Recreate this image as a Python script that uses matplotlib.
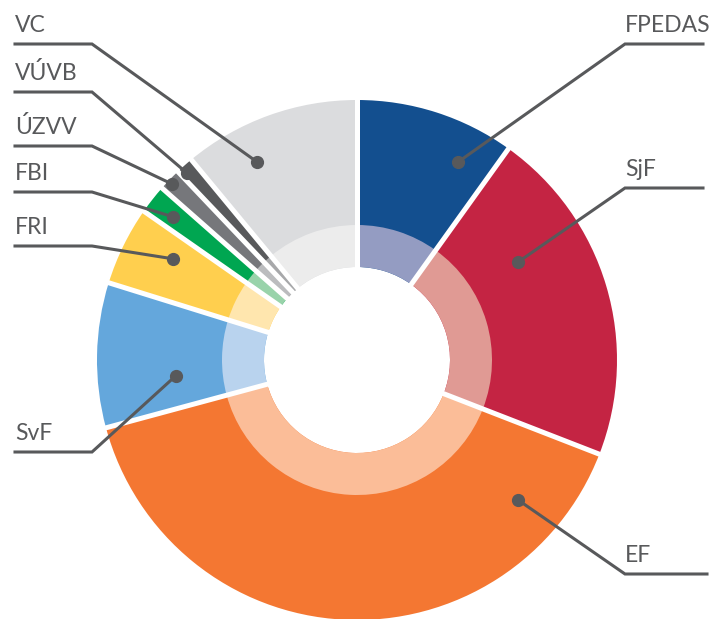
import numpy as np
import matplotlib
matplotlib.use("Agg")
import matplotlib.pyplot as plt

# Shares of each unit, clockwise from 12 o'clock (percent)
labels = ["FPEDAS", "SjF", "EF", "SvF", "FRI", "FBI", "ÚZVV", "VÚVB", "VC"]
shares = [9.9, 21.0, 39.9, 9.0, 4.9, 1.8, 1.4, 1.1, 11.0]

outer_colors = ["#134f8f", "#c42443", "#f47732", "#64a7dc", "#ffcf4e",
                "#00a651", "#76777b", "#58595b", "#dbdcde"]
inner_colors = ["#949cc2", "#e09a94", "#fbbd98", "#b9d3ee", "#ffe6ae",
                "#99d3aa", "#bbbcbe", "#a7a8aa", "#ececec"]

# Leader layout: marker angle (deg clockwise from top), marker radius,
# label line height (px from top), which side
marker_angle = [27, 58.7, 131, 265, 298.8, 307.9, 313.6, 317.7, 333.2]
marker_r = [222, 188, 213, 182, 210, 233, 255, 253, 222]
label_y = [44, 188, 574, 452, 246, 192, 146, 92, 44]
side = ["R", "R", "R", "L", "L", "L", "L", "L", "L"]
line_end = [703, 703, 707, 15, 15, 15, 15, 15, 15]

W, H = 712, 619
cx, cy = 357, H - 360
R_OUT, R_MID, R_IN = 260, 135, 93
GREY = "#58595b"

plt.rcParams["font.family"] = ["Lato", "DejaVu Sans"]

fig = plt.figure(figsize=(W / 100, H / 100), dpi=100)
ax = fig.add_axes([0, 0, 1, 1])

ax.pie(shares, colors=outer_colors, startangle=90, counterclock=False,
       center=(cx, cy), radius=R_OUT, frame=True,
       wedgeprops=dict(width=R_OUT - R_IN, linewidth=0))
ax.pie(shares, colors=inner_colors, startangle=90, counterclock=False,
       center=(cx, cy), radius=R_MID, frame=True,
       wedgeprops=dict(width=R_MID - R_IN, linewidth=0))

# white gaps between slices
bounds = np.concatenate([[0], np.cumsum(shares)]) / sum(shares) * 360
for a in bounds[:-1]:
    t = np.radians(90 - a)
    ax.plot([cx, cx + 275 * np.cos(t)], [cy, cy + 275 * np.sin(t)],
            color="white", lw=3.6, solid_capstyle="butt", zorder=3)

# leaders and labels
for name, a, r, ly, s, xend in zip(labels, marker_angle, marker_r,
                                   label_y, side, line_end):
    t = np.radians(90 - a)
    mx, my = cx + r * np.cos(t), cy + r * np.sin(t)
    y = H - ly
    xe = 625 if s == "R" else 92
    ax.plot([mx, xe, xend], [my, y, y], color=GREY, lw=2.2,
            solid_joinstyle="miter", zorder=4)
    ax.plot(mx, my, "o", color=GREY, ms=8.5, zorder=5)
    tx = 625 if s == "R" else 15
    ax.text(tx, y + 12, name, fontsize=16.5, color=GREY,
            ha="left", va="baseline")

ax.set_xlim(0, W)
ax.set_ylim(0, H)
ax.set_aspect("equal")
ax.axis("off")

fig.savefig("out.png", dpi=100)
